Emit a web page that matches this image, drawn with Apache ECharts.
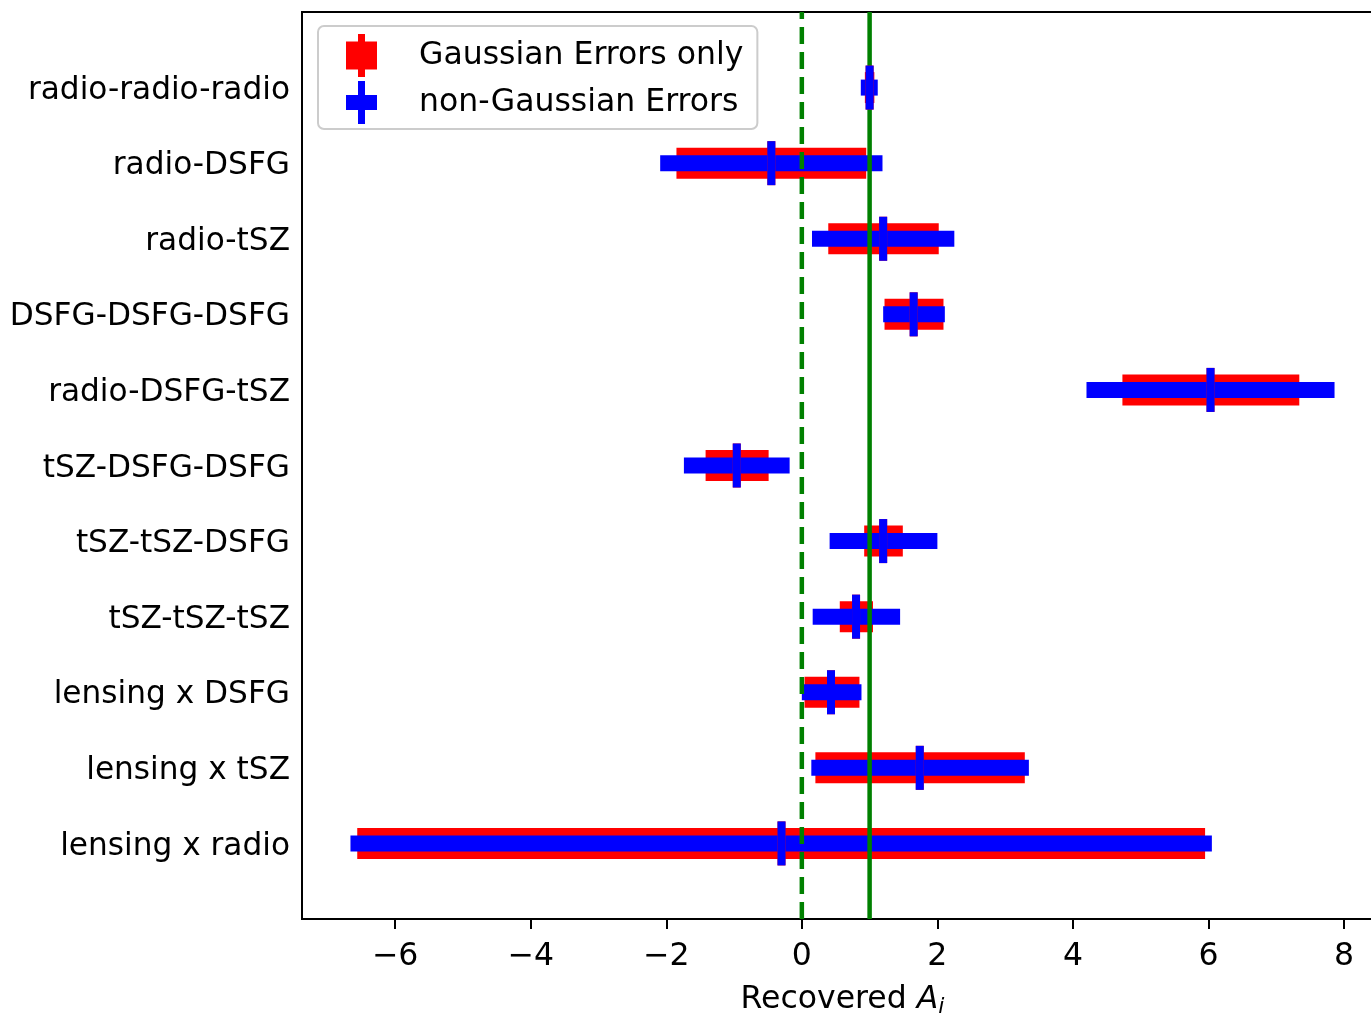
<!DOCTYPE html>
<html>
<head>
<meta charset="utf-8">
<script src="https://cdn.jsdelivr.net/npm/echarts@6/dist/echarts.min.js"></script>
<style>
  html, body { margin: 0; padding: 0; background: #fff; }
  #chart { width: 1371px; height: 1015px; }
</style>
</head>
<body>
<div id="chart"></div>
<script>
// ---- data ----
const categories = ['radio-radio-radio', 'radio-DSFG', 'radio-tSZ', 'DSFG-DSFG-DSFG', 'radio-DSFG-tSZ',
  'tSZ-DSFG-DSFG', 'tSZ-tSZ-DSFG', 'tSZ-tSZ-tSZ', 'lensing x DSFG', 'lensing x tSZ', 'lensing x radio'];
const centers      = [1.00, -0.45, 1.20, 1.65, 6.03, -0.96, 1.20, 0.80, 0.43, 1.74, -0.30];
const gaussLow     = [0.93, -1.85, 0.39, 1.22, 4.73, -1.42, 0.92, 0.56, 0.04, 0.20, -6.56];
const gaussHigh    = [1.07, 0.95, 2.02, 2.09, 7.34, -0.49, 1.49, 1.05, 0.85, 3.29, 5.95];
const nonGaussLow  = [0.87, -2.09, 0.15, 1.20, 4.20, -1.74, 0.41, 0.16, 0.00, 0.14, -6.66];
const nonGaussHigh = [1.12, 1.19, 2.25, 2.11, 7.86, -0.18, 2.00, 1.45, 0.88, 3.35, 6.05];
const refValues    = [0, 1];
const xTicks       = [-6, -4, -2, 0, 2, 4, 6, 8];
const rowTicks     = [0, 1, 2, 3, 4, 5, 6, 7, 8, 9, 10];
const seriesNames  = ['Gaussian Errors only', 'non-Gaussian Errors'];

// ---- styles ----
const RED = '#ff0000', BLUE = '#0000ff', GREEN = '#008000';
const FONT = '"DejaVu Sans", "Liberation Sans", sans-serif';
const FS = 31.5;
const refDashed = [true, false];

function barRender(h, color) {
  return function (params, api) {
    const row = api.value(0);
    const a = api.coord([api.value(1), row]);
    const b = api.coord([api.value(2), row]);
    return { type: 'rect', shape: { x: a[0], y: a[1] - h / 2, width: b[0] - a[0], height: h },
             style: { fill: color } };
  };
}
function markerRender(w, h, color) {
  return function (params, api) {
    const p = api.coord([api.value(1), api.value(0)]);
    return { type: 'rect', shape: { x: p[0] - w / 2, y: p[1] - h / 2, width: w, height: h },
             style: { fill: color } };
  };
}
function refRender(params, api) {
  const x = api.coord([api.value(0), 0])[0];
  const cs = params.coordSys;
  const dashed = refDashed[params.dataIndex];
  return { type: 'line', shape: { x1: x, y1: cs.y + cs.height, x2: x, y2: cs.y },
           style: { stroke: GREEN, lineWidth: 4.5, lineDash: dashed ? [17, 8] : null } };
}

const redBars   = categories.map((c, i) => [i, gaussLow[i], gaussHigh[i]]);
const blueBars  = categories.map((c, i) => [i, nonGaussLow[i], nonGaussHigh[i]]);
const markers   = categories.map((c, i) => [i, centers[i]]);

const fmtMinus = v => (v < 0 ? '\u2212' + Math.abs(v) : String(v));

const chart = echarts.init(document.getElementById('chart'), null, { renderer: 'canvas' });
chart.setOption({
  animation: false,
  backgroundColor: '#fff',
  textStyle: { fontFamily: FONT },
  grid: { left: 302, top: 12, width: 1081, height: 907, show: true, borderColor: '#000', borderWidth: 2,
          backgroundColor: 'transparent', containLabel: false, outerBoundsMode: 'none' },
  legend: {
    orient: 'vertical', left: 318, top: 26,
    backgroundColor: 'rgba(255,255,255,0.8)', borderColor: '#cccccc', borderWidth: 2, borderRadius: 6,
    padding: [8, 14, 5, 28],
    itemWidth: 31, itemHeight: 43, itemGap: 4,
    textStyle: { fontFamily: FONT, fontSize: FS, color: '#000', padding: [0, 0, 0, 37] },
    data: [
      { name: seriesNames[0], icon: 'path://M0,7.5L31,7.5L31,35.5L0,35.5Z M12,0L19,0L19,43L12,43Z', itemStyle: { color: RED } },
      { name: seriesNames[1], icon: 'path://M0,14L31,14L31,29L0,29Z M12,0L19,0L19,43L12,43Z', itemStyle: { color: BLUE } }
    ]
  },
  xAxis: {
    type: 'value', min: -7.375, max: 8.575,
    name: '{r|Recovered }{a|A}{s|i}',
    nameLocation: 'middle', nameGap: 63,
    nameTextStyle: {
      rich: {
        r: { fontFamily: FONT, fontSize: FS, color: '#000', lineHeight: 36, verticalAlign: 'middle' },
        a: { fontFamily: FONT, fontSize: FS, color: '#000', fontStyle: 'italic', lineHeight: 36, verticalAlign: 'middle' },
        s: { fontFamily: FONT, fontSize: 22, color: '#000', fontStyle: 'italic', lineHeight: 22, verticalAlign: 'bottom' }
      }
    },
    axisLine: { show: true, onZero: false, lineStyle: { color: '#000', width: 2 } },
    axisTick: { show: true, length: 10, customValues: xTicks, lineStyle: { color: '#000', width: 2 } },
    axisLabel: { customValues: xTicks, formatter: fmtMinus, fontFamily: FONT, fontSize: FS, color: '#000', margin: 22 },
    splitLine: { show: false }
  },
  yAxis: {
    type: 'value', min: -1, max: 11, inverse: true,
    axisLine: { show: true, onZero: false, lineStyle: { color: '#000', width: 2 } },
    axisTick: { show: false },
    axisLabel: { customValues: rowTicks, formatter: v => '{c|' + categories[v] + '}', margin: 12,
                 rich: { c: { fontFamily: FONT, fontSize: 31.2, color: '#000', padding: [6, 0, 0, 0] } } },
    splitLine: { show: false }
  },
  series: [
    { type: 'custom', name: seriesNames[0], z: 2, renderItem: barRender(31, RED), data: redBars, encode: { x: [1, 2], y: 0 } },
    { type: 'custom', name: seriesNames[1], z: 3, renderItem: barRender(16, BLUE), data: blueBars, encode: { x: [1, 2], y: 0 } },
    { type: 'custom', name: 'reference', z: 4, renderItem: refRender, data: refValues.map(v => [v]), encode: { x: 0 } },
    { type: 'custom', name: seriesNames[0], z: 5, renderItem: markerRender(8, 44, RED), data: markers, encode: { x: 1, y: 0 } },
    { type: 'custom', name: seriesNames[1], z: 6, renderItem: markerRender(8, 44, BLUE), data: markers, encode: { x: 1, y: 0 } }
  ]
});
</script>
</body>
</html>
